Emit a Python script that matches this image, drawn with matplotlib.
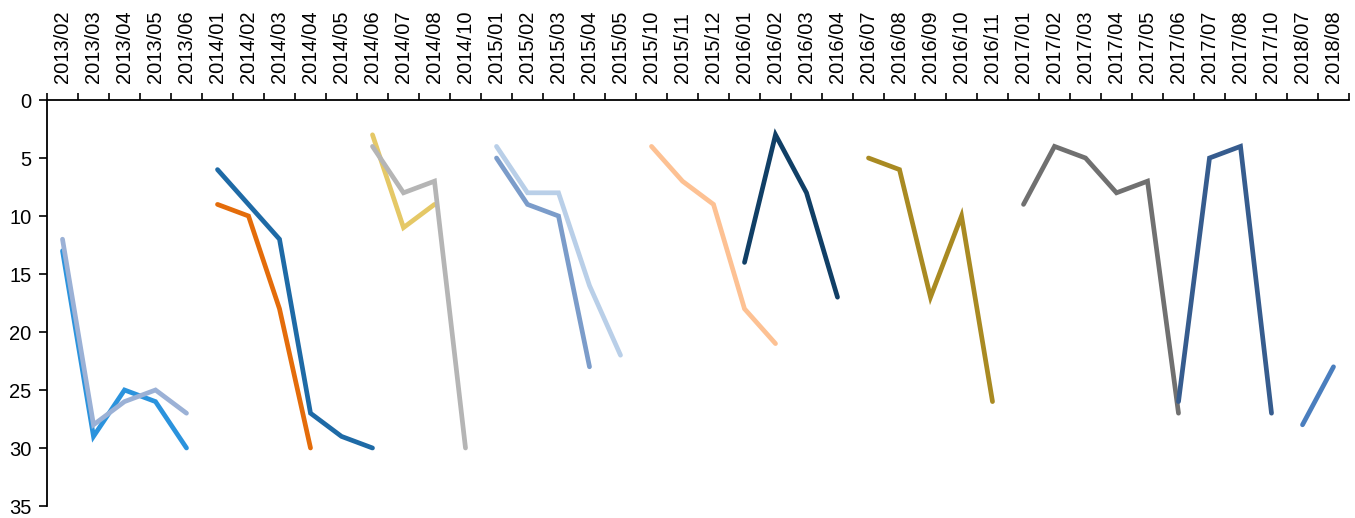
import numpy as np
import matplotlib.pyplot as plt

plt.rcParams['font.family'] = ['Liberation Sans', 'DejaVu Sans']

months = ["2013/02", "2013/03", "2013/04", "2013/05", "2013/06",
          "2014/01", "2014/02", "2014/03", "2014/04", "2014/05", "2014/06",
          "2014/07", "2014/08", "2014/10",
          "2015/01", "2015/02", "2015/03", "2015/04", "2015/05",
          "2015/10", "2015/11", "2015/12",
          "2016/01", "2016/02", "2016/03", "2016/04",
          "2016/07", "2016/08", "2016/09", "2016/10", "2016/11",
          "2017/01", "2017/02", "2017/03", "2017/04", "2017/05", "2017/06",
          "2017/07", "2017/08", "2017/10",
          "2018/07", "2018/08"]

# each series: (first month, ranks)
s_a = ("2013/02", [13, 29, 25, 26, 30])
s_b = ("2013/02", [12, 28, 26, 25, 27])
s_c = ("2014/01", [6, 9, 12, 27, 29, 30])
s_d = ("2014/01", [9, 10, 18, 30])
s_e = ("2014/06", [3, 11, 9])
s_f = ("2014/06", [4, 8, 7, 30])
s_g = ("2015/01", [5, 9, 10, 23])
s_h = ("2015/01", [4, 8, 8, 16, 22])
s_i = ("2015/10", [4, 7, 9, 18, 21])
s_j = ("2016/01", [14, 3, 8, 17])
s_k = ("2016/07", [5, 6, 17, 10, 26])
s_l = ("2017/01", [9, 4, 5, 8, 7, 27])
s_m = ("2017/06", [26, 5, 4, 27])
s_n = ("2018/07", [28, 23])

series = [s_a, s_b, s_c, s_d, s_e, s_f, s_g, s_h, s_i, s_j, s_k, s_l, s_m, s_n]
colors = ["#2B93DD", "#9BB1D6", "#1E6AA6", "#E46C0A", "#E5C866", "#B5B5B5",
          "#7B9CCA", "#B9CFE8", "#FDC193", "#103F66", "#A98A22", "#707070",
          "#365C8E", "#4A7EBE"]
# later series are drawn on top
order = [0, 1, 2, 3, 4, 5, 6, 7, 8, 9, 10, 11, 12, 13]

fig = plt.figure(figsize=(13.55, 5.18), dpi=100)
ax = fig.add_axes([47 / 1355, 12 / 518, 1302 / 1355, 406 / 518])

for i in order:
    start, vals = series[i]
    i0 = months.index(start)
    x = np.arange(i0, i0 + len(vals))
    ax.plot(x, vals, color=colors[i], lw=3.4, solid_capstyle='round',
            solid_joinstyle='miter')

ax.set_xlim(-0.5, len(months) - 0.5)
ax.set_ylim(35, 0)
ax.set_yticks(np.arange(0, 36, 5))

ax.xaxis.tick_top()
ax.set_xticks(np.arange(len(months)))
ax.set_xticklabels(months, rotation=90)
ax.set_xticks(np.arange(-0.5, len(months)), minor=True)
ax.tick_params(axis='x', which='major', length=0, pad=12, labelsize=14.5)
ax.tick_params(axis='x', which='minor', length=5, width=1.2, direction='out')
ax.tick_params(axis='y', length=6, width=1.2, direction='out', labelsize=14.5, pad=5)

for side in ['bottom', 'right']:
    ax.spines[side].set_visible(False)
for side in ['top', 'left']:
    ax.spines[side].set_linewidth(1.3)

fig.savefig("out.png", dpi=100)
